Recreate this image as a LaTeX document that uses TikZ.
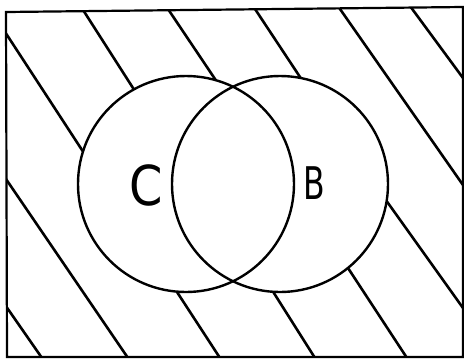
\documentclass[tikz,border=0pt]{standalone}
\usepackage{fontspec}
\newfontfamily\labelfont{DejaVu Sans}
\usetikzlibrary{calc}
\begin{document}
\begin{tikzpicture}[x=1pt,y=-1pt,
  frame/.style={line width=2.2pt,line join=miter},
  setcircle/.style={line width=2.4pt},
  hatch/.style={line width=2.6pt,shorten <=-10pt,shorten >=-10pt},
  setlabel/.style={font=\labelfont,inner sep=0pt}]
\useasboundingbox (0,0) rectangle (464,360);
\coordinate (cC) at (186,184);
\coordinate (cB) at (280,184);
% hatching outside both circles
\begin{scope}
  \clip (6,12) -- (463,7) -- (463,357) -- (7,357) -- cycle;
  \begin{scope}[even odd rule]
  \clip (0,0) rectangle (464,360) (cC) circle[radius=108];
  \begin{scope}[even odd rule]
  \clip (0,0) rectangle (464,360) (cB) circle[radius=108];
  \draw[hatch] (7,35) -- (82,150);
  \draw[hatch] (85,13) -- (133,88);
  \draw[hatch] (170,12) -- (215,79);
  \draw[hatch] (257,12) -- (300,77);
  \draw[hatch] (340,9) -- (463,185);
  \draw[hatch] (410,6) -- (463,78);
  \draw[hatch] (8,182) -- (128,358);
  \draw[hatch] (10,312) -- (42,358);
  \draw[hatch] (177,292) -- (220,358);
  \draw[hatch] (272,290) -- (315,358);
  \draw[hatch] (348,268) -- (407,358);
  \draw[hatch] (388,203) -- (463,308);
  \end{scope}
  \end{scope}
\end{scope}
% frame
\draw[frame] (6,12) -- (463,7) -- (463,357) -- (7,357) -- cycle;
% circles
\draw[setcircle] (cC) circle[radius=108];
\draw[setcircle] (cB) circle[radius=108];
% labels
\node[setlabel,xscale=0.87] (lC) at (146.5,185) {\fontsize{55}{55}\selectfont C};
\node[setlabel,xscale=0.7] (lB) at (314,183.5) {\fontsize{45}{45}\selectfont B};
\end{tikzpicture}
\end{document}
